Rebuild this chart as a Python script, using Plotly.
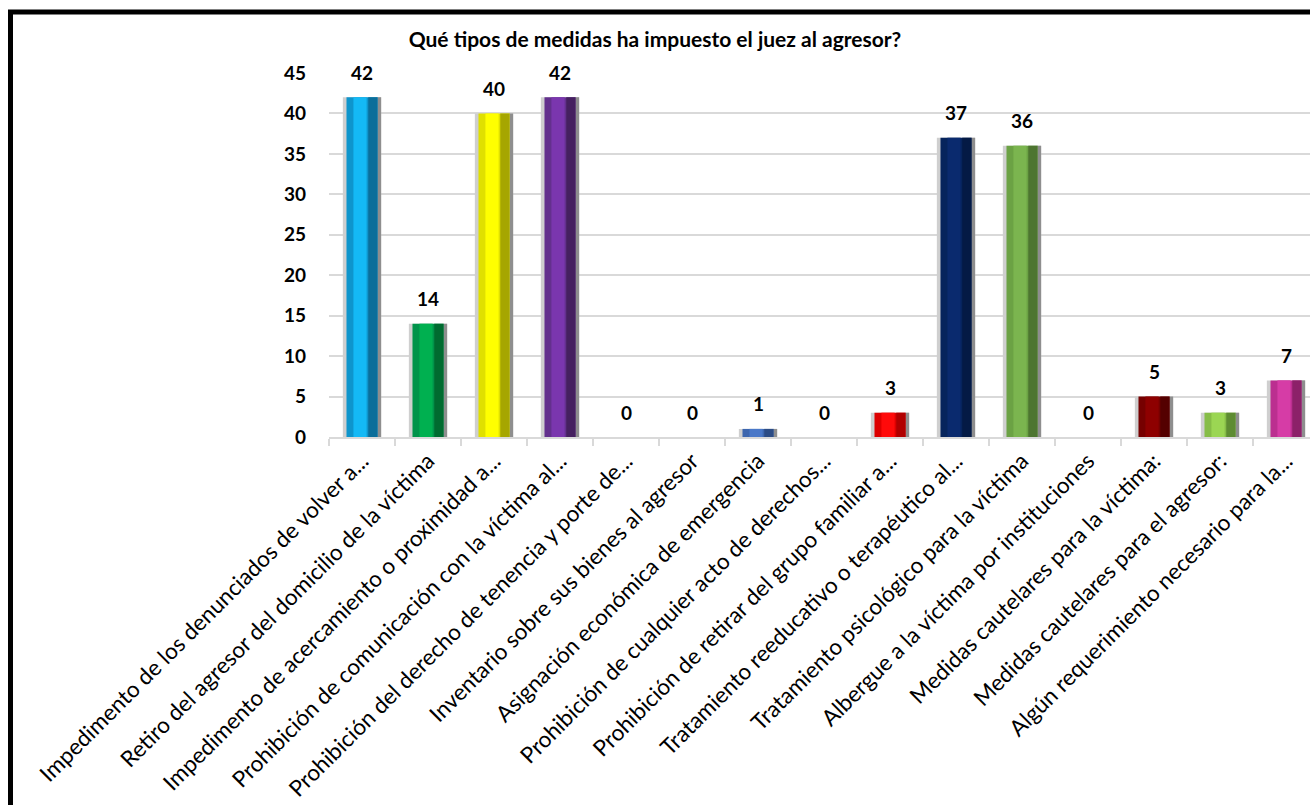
import plotly.graph_objects as go

categories = [
    "Impedimento de los denunciados de volver a...",
    "Retiro del agresor del domicilio de la víctima",
    "Impedimento de acercamiento o proximidad a...",
    "Prohibición de comunicación con la víctima al...",
    "Prohibición del derecho de tenencia y porte de...",
    "Inventario sobre sus bienes al agresor",
    "Asignación económica de emergencia",
    "Prohibición de cualquier acto de derechos...",
    "Prohibición de retirar del grupo familiar a...",
    "Tratamiento reeducativo o terapéutico al...",
    "Tratamiento psicológico para la víctima",
    "Albergue a la víctima por instituciones",
    "Medidas cautelares para la víctima:",
    "Medidas cautelares para el agresor:",
    "Algún requerimiento necesario para la...",
]
values = [42, 14, 40, 42, 0, 0, 1, 0, 3, 37, 36, 0, 5, 3, 7]
colors_mid = ["#14B9F5", "#00B050", "#FFFF00", "#7A36AE", "#888888", "#888888",
              "#4A78C8", "#888888", "#FF0A0A", "#0A2A6E", "#7BB54F", "#888888",
              "#8E0000", "#9BD653", "#D63CA6"]
colors_dark = ["#0B6E9A", "#006B30", "#A6A600", "#45205F", "#555555", "#555555",
               "#2C4C85", "#555555", "#B00000", "#041A45", "#4D7530", "#555555",
               "#540000", "#5E8C32", "#8C2169"]
colors_side = ["#0E95CC", "#00934A", "#E0E000", "#63308D", "#777777", "#777777",
               "#3D66AE", "#777777", "#DD0000", "#06245C", "#6BA244", "#777777",
               "#760000", "#86BD47", "#BB2F90"]
title = "Qué tipos de medidas ha impuesto el juez al agresor?"
y_ticks = [0, 5, 10, 15, 20, 25, 30, 35, 40, 45]

W, H = 1310, 805
L, R, T, B = 329, 0, 73, 368
FONT = "Lato"

fig = go.Figure()
# bevel frame (light left/top, darker right edge)
fig.add_trace(go.Bar(x=categories, y=values, width=0.58, offset=-0.29,
                     marker=dict(color="#CFCFCF", line=dict(width=0)), hoverinfo="skip"))
fig.add_trace(go.Bar(x=categories, y=values, width=0.06, offset=0.23,
                     marker=dict(color="#8E8E8E", line=dict(width=0)), hoverinfo="skip"))
# colored body (sides)
fig.add_trace(go.Bar(x=categories, y=values, width=0.47, offset=-0.235,
                     marker=dict(color=colors_side, line=dict(width=0)), hoverinfo="skip"))
# bright centre
fig.add_trace(go.Bar(x=categories, y=values, width=0.2, offset=-0.13,
                     marker=dict(color=colors_mid, line=dict(width=0)), hoverinfo="skip"))
# dark right side
fig.add_trace(go.Bar(x=categories, y=values, width=0.14, offset=0.095,
                     marker=dict(color=colors_dark, line=dict(width=0)), hoverinfo="skip"))

for c, v in zip(categories, values):
    fig.add_annotation(x=c, y=v, text=str(v), showarrow=False,
                       yshift=25, yanchor="middle",
                       font=dict(family=FONT, size=19, color="#000000", weight="bold"))

def px_x(p):
    return (p - L) / (W - L - R)

def px_y(p):
    return (H - B - p) / (H - T - B)

fig.add_shape(type="line", xref="paper", yref="paper",
              x0=px_x(10.5), x1=px_x(10.5), y0=px_y(10), y1=px_y(820),
              line=dict(color="#000000", width=5))
fig.add_shape(type="line", xref="paper", yref="paper",
              x0=px_x(8), x1=px_x(1320), y0=px_y(12), y1=px_y(12),
              line=dict(color="#000000", width=5))

fig.update_layout(
    width=W, height=H,
    margin=dict(l=L, r=R, t=T, b=B),
    barmode="overlay",
    showlegend=False,
    plot_bgcolor="white",
    paper_bgcolor="white",
    title=dict(text=title, x=0.5, xref="container", xanchor="center",
               y=1 - 40 / H, yref="container", yanchor="middle",
               font=dict(family=FONT, size=21, color="#000000", weight="bold")),
    font=dict(family=FONT),
)
fig.update_xaxes(
    type="category", range=[-0.5, -0.5 + (W - L - R) / 66.0],
    tickangle=-45, tickfont=dict(family=FONT, size=22.5, color="#000000"),
    ticks="outside", tickson="boundaries", ticklen=7, tickwidth=2, tickcolor="#D9D9D9",
    showline=True, linecolor="#D9D9D9", linewidth=2, showgrid=False,
)
fig.update_yaxes(
    range=[0, 45], tickvals=y_ticks,
    tickfont=dict(family=FONT, size=19, color="#000000", weight="bold"),
    showgrid=True, gridcolor="#D9D9D9", gridwidth=2,
    zeroline=False, showline=False, ticks="", ticklabelstandoff=22,
)

fig.write_html("out.html")
